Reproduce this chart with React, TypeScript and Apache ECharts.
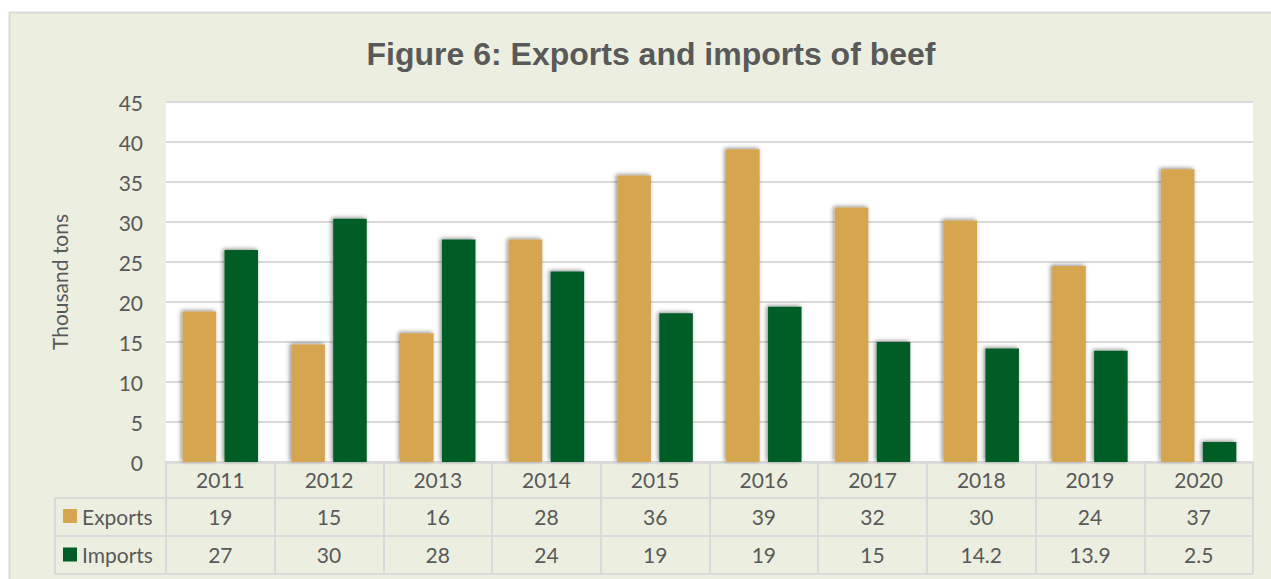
import React, { useEffect, useRef } from "react";
import * as echarts from "echarts";

const categories = ["2011", "2012", "2013", "2014", "2015", "2016", "2017", "2018", "2019", "2020"];
const exportsValues = [18.8, 14.7, 16.1, 27.8, 35.8, 39.1, 31.8, 30.2, 24.5, 36.6];
const importsValues = [26.5, 30.4, 27.8, 23.8, 18.6, 19.4, 15.0, 14.2, 13.9, 2.5];
const exportsLabels = ["19", "15", "16", "28", "36", "39", "32", "30", "24", "37"];
const importsLabels = ["27", "30", "28", "24", "19", "19", "15", "14.2", "13.9", "2.5"];
const seriesNames = ["Exports", "Imports"];
const titleText = "Figure 6: Exports and imports of beef";
const yAxisName = "Thousand tons";

const EXP_COLOR = "#D6A54F";
const IMP_COLOR = "#005D28";
const TEXT = "#595959";
const LINE = "#D9D9D9";
const FONT = "Lato, 'Open Sans', sans-serif";

export default function App() {
  const ref = useRef<HTMLDivElement>(null);
  useEffect(() => {
    if (!ref.current) return;
    const chart = echarts.init(ref.current, undefined, { renderer: "svg" });
    const gridLeft = 166, gridTop = 102, gridW = 1087, gridH = 360;
    const gridBottomY = gridTop + gridH;
    const catRowH = 36, rowH = 38;
    const tableLeft = 55;
    const tableRight = gridLeft + gridW;
    const row1Bottom = gridBottomY + catRowH;
    const row2Bottom = row1Bottom + rowH;
    const row3Bottom = row2Bottom + rowH;
    const catW = gridW / categories.length;
    const rowCenters = [row1Bottom + rowH / 2 - 1, row2Bottom + rowH / 2 - 0.5];
    const rowsLabels = [exportsLabels, importsLabels];
    const colors = [EXP_COLOR, IMP_COLOR];

    const graphics: any[] = [
      {
        type: "rect",
        z: -10,
        shape: { x: 9.5, y: 12.5, width: 1300, height: 700 },
        style: { fill: "#ECEFDF", stroke: LINE, lineWidth: 2 },
        silent: true,
      },
    ];
    [row1Bottom, row2Bottom, row3Bottom].forEach((y) => {
      graphics.push({
        type: "line",
        shape: { x1: tableLeft, y1: y, x2: tableRight, y2: y },
        style: { stroke: LINE, lineWidth: 2 },
        silent: true,
      });
    });
    graphics.push({
      type: "line",
      shape: { x1: tableLeft, y1: row1Bottom, x2: tableLeft, y2: row3Bottom },
      style: { stroke: LINE, lineWidth: 2 },
      silent: true,
    });
    seriesNames.forEach((name, r) => {
      const cy = rowCenters[r];
      graphics.push({
        type: "rect",
        shape: { x: 63, y: cy - 7, width: 14, height: 14 },
        style: { fill: colors[r] },
        silent: true,
      });
      graphics.push({
        type: "text",
        x: 82,
        y: cy,
        style: { text: name, fill: TEXT, font: `21px ${FONT}`, textAlign: "left", textVerticalAlign: "middle" },
        silent: true,
      });
      rowsLabels[r].forEach((lab, i) => {
        graphics.push({
          type: "text",
          x: gridLeft + (i + 0.5) * catW,
          y: cy,
          style: { text: lab, fill: TEXT, font: `21px ${FONT}`, textAlign: "center", textVerticalAlign: "middle" },
          silent: true,
        });
      });
    });

    const barStyle = (c: string) => ({
      color: c,
      shadowColor: "rgba(0,0,0,0.45)",
      shadowBlur: 4,
      shadowOffsetX: -1.5,
      shadowOffsetY: -1,
    });

    chart.setOption({
      animation: false,
      backgroundColor: "transparent",
      title: {
        text: titleText,
        left: 646,
        top: 33,
        textAlign: "center",
        textStyle: { fontFamily: "'Liberation Sans', Arial, sans-serif", fontWeight: "bold", fontSize: 32, color: TEXT },
      },
      grid: {
        left: gridLeft,
        top: gridTop,
        width: gridW,
        height: gridH,
        show: true,
        backgroundColor: "#FFFFFF",
        borderWidth: 0,
      },
      xAxis: {
        type: "category",
        data: categories,
        axisLine: { show: true, lineStyle: { color: LINE, width: 2.5 } },
        axisTick: { show: true, length: row3Bottom - gridBottomY, lineStyle: { color: LINE, width: 2 } },
        axisLabel: { color: TEXT, fontSize: 21, fontFamily: FONT, margin: 7 },
      },
      yAxis: {
        type: "value",
        min: 0,
        max: 45,
        interval: 5,
        name: yAxisName,
        nameLocation: "middle",
        nameRotate: 90,
        nameGap: 96,
        nameTextStyle: { color: TEXT, fontSize: 21, fontFamily: FONT },
        axisLine: { show: false },
        axisTick: { show: false },
        axisLabel: { color: TEXT, fontSize: 21, fontFamily: FONT, margin: 23 },
        splitLine: { lineStyle: { color: LINE, width: 2 } },
      },
      series: [
        {
          name: seriesNames[0],
          type: "bar",
          data: exportsValues,
          barWidth: 33.5,
          barGap: "25%",
          itemStyle: barStyle(EXP_COLOR),
        },
        {
          name: seriesNames[1],
          type: "bar",
          data: importsValues,
          barWidth: 33.5,
          barGap: "25%",
          itemStyle: barStyle(IMP_COLOR),
        },
      ],
      graphic: graphics,
    });
    return () => chart.dispose();
  }, []);
  return (
    <div
      ref={ref}
      style={{ position: "absolute", left: 0, top: 0, width: 1271, height: 579, background: "#FFFFFF" }}
    />
  );
}
